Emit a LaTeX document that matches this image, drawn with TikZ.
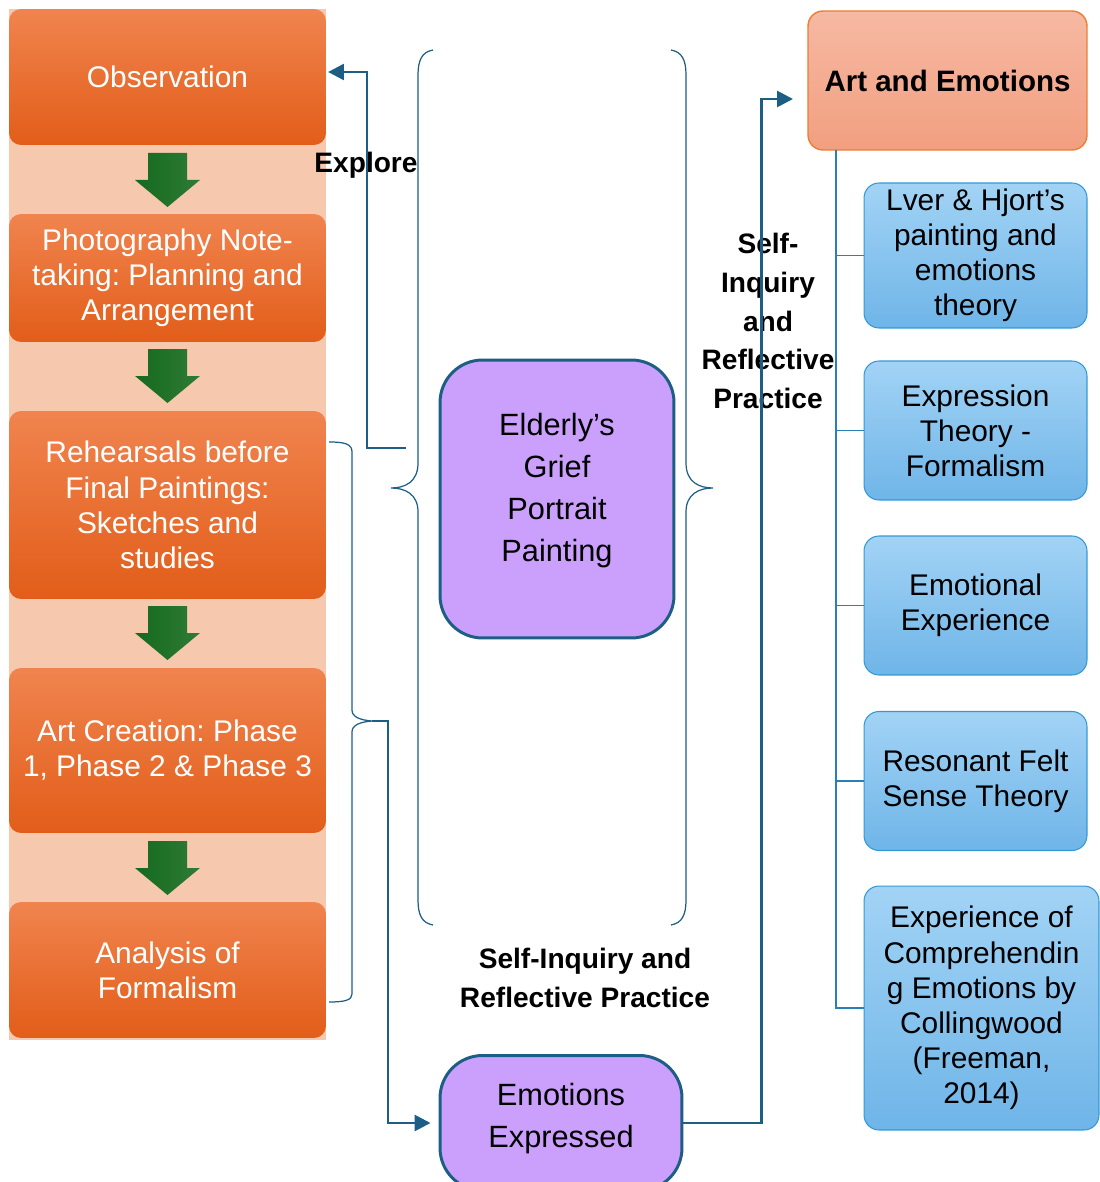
\documentclass[tikz,border=0pt]{standalone}
\usepackage{fontspec}
\setmainfont{Liberation Sans}
\usepackage{xcolor}
\usetikzlibrary{arrows.meta, calc}
\definecolor{orTop}{HTML}{F0844F}
\definecolor{orBot}{HTML}{E25D19}
\definecolor{peach}{HTML}{F6C8AE}
\definecolor{grLeft}{HTML}{156A1E}
\definecolor{grRight}{HTML}{2F7B36}
\definecolor{core}{HTML}{CBA0FD}
\definecolor{lnk}{HTML}{1C5E84}
\definecolor{artTop}{HTML}{F6B9A3}
\definecolor{artBot}{HTML}{F29F80}
\definecolor{artEdge}{HTML}{ED7D31}
\definecolor{thTop}{HTML}{A2D3F5}
\definecolor{thBot}{HTML}{6FB5E8}
\definecolor{thEdge}{HTML}{3399D6}
\definecolor{trunk}{HTML}{2A7FB5}
\frenchspacing

\begin{document}
\begin{tikzpicture}[
  x=0.02cm, y=-0.02cm,
  stage/.style={rounded corners=0.24cm, top color=orTop, bottom color=orBot, text=white,
                minimum width=6.34cm, align=center, font=\fontsize{17}{20}\selectfont},
  theory/.style={draw=thEdge, line width=0.6pt, rounded corners=0.3cm, top color=thTop, bottom color=thBot,
                 minimum width=4.46cm, minimum height=2.78cm, align=center, font=\fontsize{17}{20}\selectfont},
  core/.style={draw=lnk, line width=1.7pt, fill=core, rounded corners=0.85cm,
               align=center, font=\fontsize{17.5}{24}\selectfont},
  lbl/.style={font=\bfseries\fontsize{16}{22}\selectfont, align=center},
  link/.style={draw=lnk, line width=1.6pt, -{Triangle[length=9pt,width=9pt]}},
  brc/.style={draw=lnk, line width=0.7pt},
  tree/.style={draw=trunk, line width=1pt},
]
  \useasboundingbox (0,0) rectangle (1099,1182);

  % left column
  \fill[peach] (9,9) rectangle (326,1040);
  \node[stage, minimum height=2.72cm] (obs) at (167.5,77) {Observation};
  \node[stage, minimum height=2.56cm] (photo) at (167.5,278) {Photography Note-\\taking: Planning and\\Arrangement};
  \node[stage, minimum height=3.76cm] (reh) at (167.5,505) {Rehearsals before\\Final Paintings:\\Sketches and\\studies};
  \node[stage, minimum height=3.3cm] (create) at (167.5,750.5) {Art Creation: Phase\\1, Phase 2 \& Phase 3};
  \node[stage, minimum height=2.72cm] (anal) at (167.5,970) {Analysis of\\Formalism};
  \foreach \t in {153,349,606,841}
    \shade[left color=grLeft, right color=grRight]
      (148,\t) -- (187,\t) -- (187,\t+27) -- (200,\t+27) -- (167.5,\t+54) -- (135,\t+27) -- (148,\t+27) -- cycle;

  % middle
  \node[core, minimum width=4.68cm, minimum height=5.56cm] (grief) at (557,499) {Elderly’s\\Grief\\Portrait\\Painting\rule[-13pt]{0pt}{0pt}};
  \node[core, minimum width=4.84cm, minimum height=2.7cm] (emo) at (561,1123) {Emotions\\Expressed\rule[-9pt]{0pt}{0pt}};
  \draw[brc] (433,50) .. controls (422,52) and (418,60) .. (418,75) -- (418,463)
    .. controls (418,482) and (405,488) .. (391,488)
    .. controls (405,488) and (418,494) .. (418,512) -- (418,900)
    .. controls (418,915) and (422,923) .. (433,925);
  \draw[brc] (671,50) .. controls (682,52) and (686,60) .. (686,75) -- (686,463)
    .. controls (686,482) and (699,488) .. (713,488)
    .. controls (699,488) and (686,494) .. (686,512) -- (686,900)
    .. controls (686,915) and (682,923) .. (671,925);
  \draw[brc] (329,442) .. controls (345,442) and (352,444) .. (352,452) -- (352,710)
    .. controls (352,717) and (360,720) .. (372,721)
    .. controls (360,722) and (352,725) .. (352,732) -- (352,994)
    .. controls (352,1000) and (345,1002) .. (329,1002);
  \coordinate (sbtip) at (372,721);
  \coordinate (exfrom) at (406,448);
  \coordinate (artin) at (793,99);

  \node[lbl] (explore) at (366,165) {Explore};
  \node[lbl] (sirp) at (768,321) {Self-\\Inquiry\\and\\Reflective\\Practice};
  \node[lbl] (sirpb) at (585,978) {Self-Inquiry and\\Reflective Practice};

  % right column
  \node[draw=artEdge, line width=0.8pt, rounded corners=0.3cm, top color=artTop, bottom color=artBot,
        minimum width=5.58cm, minimum height=2.78cm, font=\bfseries\fontsize{16.8}{20}\selectfont] (art) at (947.5,80.5) {Art and Emotions};
  \node[theory] (lver) at (975.5,255.5) {Lver \& Hjort’s\\painting and\\emotions\\theory};
  \node[theory] (expr) at (975.5,430.5) {Expression\\Theory -\\Formalism};
  \node[theory] (emexp) at (975.5,605.5) {Emotional\\Experience};
  \node[theory] (reson) at (975.5,781) {Resonant Felt\\Sense Theory};
  \node[theory, minimum width=4.7cm, minimum height=4.88cm] (compr) at (981.5,1008) {Experience of\\Comprehendin\\g Emotions by\\Collingwood\\(Freeman,\\2014)};
  \coordinate (trunktop) at (836,150);
  \foreach \b in {lver,expr,emexp,reson,compr}
    \draw[tree] (trunktop) |- (\b.west);

  % connectors
  \draw[link, shorten >=1pt] (exfrom) -- ++(-39,0) |- ($(obs.east)+(0,-5)$);
  \draw[link, shorten >=0.16cm] (sbtip) -- ++(16,0) |- (emo.west);
  \draw[link] (emo.east) -- ++(78,0) |- (artin);
\end{tikzpicture}
\end{document}
